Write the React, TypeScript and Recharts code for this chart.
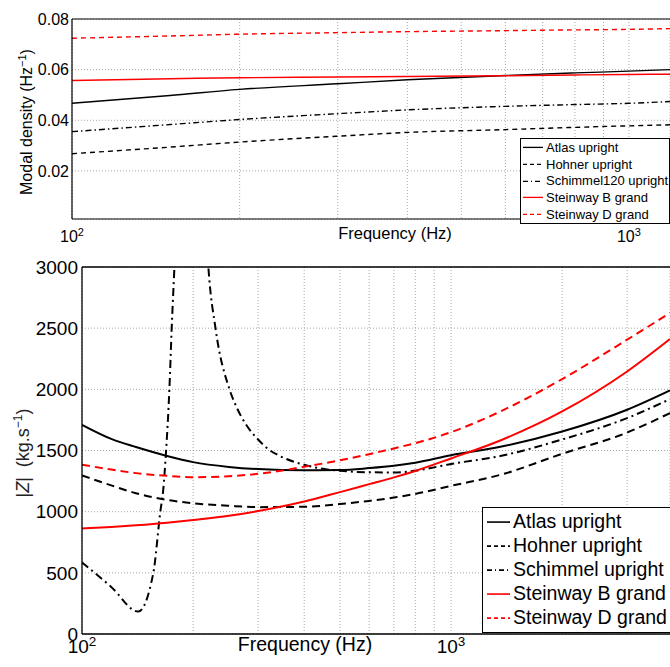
import React from "react";
import { LineChart, Line, XAxis, YAxis, CartesianGrid, ReferenceLine, Legend } from "recharts";

const FONT = '"Liberation Sans", Arial, Helvetica, sans-serif';

// ---- top panel: modal density ----
const TOP_FREQ = [100, 150, 200, 300, 400, 600, 800, 1000, 1185];
const TOP_ATLAS = [0.0467, 0.0498, 0.0522, 0.0544, 0.056, 0.0577, 0.0587, 0.0594, 0.06];
const TOP_HOHNER = [0.0268, 0.0294, 0.0314, 0.0337, 0.0352, 0.0363, 0.0372, 0.0378, 0.0382];
const TOP_SCHIMMEL = [0.0355, 0.0383, 0.0403, 0.0426, 0.0441, 0.0455, 0.0462, 0.0467, 0.0474];
const TOP_STEINWAY_B = [0.0557, 0.0564, 0.0568, 0.0571, 0.0573, 0.0576, 0.0579, 0.0581, 0.0582];
const TOP_STEINWAY_D = [0.0724, 0.0733, 0.074, 0.0746, 0.075, 0.0754, 0.0757, 0.0759, 0.0762];

const TOP_X_TICKS = [100, 200, 300, 400, 500, 600, 700, 800, 900, 1000];
const TOP_Y_TICKS = [0.02, 0.04, 0.06, 0.08];

// ---- bottom panel: |Z| ----
const BOT_FREQ = [100, 120, 140, 170, 200, 250, 300, 400, 500, 600, 700, 800, 1000, 1360, 2000, 3000, 3920];
const BOT_ATLAS = [1710, 1595, 1528, 1455, 1405, 1366, 1348, 1338, 1340, 1356, 1375, 1400, 1462, 1530, 1655, 1833, 1991];
const BOT_HOHNER = [1296, 1215, 1151, 1096, 1069, 1048, 1037, 1040, 1062, 1088, 1115, 1145, 1211, 1301, 1473, 1647, 1806];
const BOT_STEINWAY_B = [862, 875, 889, 910, 932, 966, 1005, 1083, 1160, 1225, 1280, 1333, 1435, 1582, 1819, 2146, 2411];
const BOT_STEINWAY_D = [1383, 1345, 1315, 1293, 1282, 1290, 1309, 1367, 1420, 1470, 1517, 1560, 1650, 1819, 2084, 2406, 2625];

const SCHIMMEL_FREQ = [100, 120, 142, 156, 163, 166, 169, 172.5, 175, 178, 185, 200, 213, 220, 230, 251, 260, 280, 300, 320, 340, 400, 450, 500, 600, 700, 800, 1000, 1360, 2000, 3000, 3920];
const SCHIMMEL_Z = [584, 385, 183, 497, 998, 1178, 1500, 2000, 2500, 3000, 4200, 5000, 3800, 3000, 2500, 2000, 1880, 1700, 1590, 1510, 1462, 1383, 1350, 1334, 1322, 1320, 1335, 1390, 1455, 1590, 1765, 1920];

const BOT_X_TICKS = [100, 200, 300, 400, 500, 600, 700, 800, 900, 1000, 2000, 3000];
const BOT_Y_TICKS = [0, 500, 1000, 1500, 2000, 2500, 3000];

const TOP_NAMES = ["Atlas upright", "Hohner upright", "Schimmel120 upright", "Steinway B grand", "Steinway D grand"];
const BOT_NAMES = ["Atlas upright", "Hohner upright", "Schimmel upright", "Steinway B grand", "Steinway D grand"];

const toPoints = (xs: number[], ys: number[]) => xs.map((f, i) => ({ f, v: ys[i] }));

const topSeries = [
  { color: "#000", dash: undefined, data: toPoints(TOP_FREQ, TOP_ATLAS) },
  { color: "#000", dash: "5 4", data: toPoints(TOP_FREQ, TOP_HOHNER) },
  { color: "#000", dash: "6 3 1.5 3", data: toPoints(TOP_FREQ, TOP_SCHIMMEL) },
  { color: "#ff0000", dash: undefined, data: toPoints(TOP_FREQ, TOP_STEINWAY_B) },
  { color: "#ff0000", dash: "5 4", data: toPoints(TOP_FREQ, TOP_STEINWAY_D) },
];

const botSeries = [
  { color: "#000", dash: undefined, data: toPoints(BOT_FREQ, BOT_ATLAS) },
  { color: "#000", dash: "8 5", data: toPoints(BOT_FREQ, BOT_HOHNER) },
  { color: "#000", dash: "8 4 2 4", data: toPoints(SCHIMMEL_FREQ, SCHIMMEL_Z) },
  { color: "#ff0000", dash: undefined, data: toPoints(BOT_FREQ, BOT_STEINWAY_B) },
  { color: "#ff0000", dash: "8 5", data: toPoints(BOT_FREQ, BOT_STEINWAY_D) },
];

const LEGEND_DASH = [undefined, "4 3", "5 3 1 3", undefined, "4 3"];

function makeDecadeTick(fontSize: number, supSize: number, baseOff: number, supRise: number) {
  return (props: any) => {
    const { x, y, payload } = props;
    const v = payload.value;
    const exp = Math.round(Math.log10(v));
    if (Math.abs(v - Math.pow(10, exp)) > 1e-6) return <g />;
    return (
      <text x={x} y={y + baseOff} textAnchor="middle" fontSize={fontSize} fontFamily={FONT} fill="#000">
        <tspan>10</tspan>
        <tspan dy={-supRise} fontSize={supSize}>{exp}</tspan>
      </text>
    );
  };
}

function XLabel({ cx, y, size }: any) {
  return (
    <text x={cx} y={y} textAnchor="middle" fontSize={size} fontFamily={FONT} fill="#000">
      Frequency (Hz)
    </text>
  );
}

function TopYLabel() {
  return (
    <text transform="translate(31.5,122) rotate(-90)" textAnchor="middle" fontSize={16} fontFamily={FONT} fill="#000">
      <tspan>Modal density (Hz</tspan>
      <tspan dy={-6} fontSize={11}>−1</tspan>
      <tspan dy={6}>)</tspan>
    </text>
  );
}

function BotYLabel() {
  return (
    <text transform="translate(29,195) rotate(-90)" textAnchor="middle" fontSize={18} fontFamily={FONT} fill="#222">
      <tspan>|</tspan>
      <tspan fontStyle="italic">Z</tspan>
      <tspan>|</tspan>
      <tspan dx={10}>(kg.s</tspan>
      <tspan dy={-7} fontSize={12}>−1</tspan>
      <tspan dy={7}>)</tspan>
    </text>
  );
}

function LegendBox({ names, dashes, colors, fontSize, rowH, sampleW, gap, padL, padT, padB, lineW, width }: any) {
  return (
    <div
      style={{
        border: "1px solid #000",
        background: "#fff",
        boxSizing: "border-box",
        width,
        paddingTop: padT,
        paddingBottom: padB,
        paddingLeft: padL,
        fontFamily: FONT,
        fontSize,
        color: "#000",
      }}
    >
      {names.map((n: string, i: number) => (
        <div key={n} style={{ display: "flex", alignItems: "center", height: rowH, whiteSpace: "nowrap" }}>
          <svg width={sampleW} height={rowH} style={{ flex: "none" }}>
            <line x1={0} x2={sampleW} y1={rowH / 2} y2={rowH / 2} stroke={colors[i]} strokeWidth={lineW} strokeDasharray={dashes[i]} />
          </svg>
          <span style={{ marginLeft: gap, lineHeight: 1 }}>{n}</span>
        </div>
      ))}
    </div>
  );
}

const gridStroke = "#a8a8a8";

export default function App() {
  const topTick = makeDecadeTick(16, 11, 23, 6);
  const botTick = makeDecadeTick(19, 13.5, 19, 7);
  return (
    <div style={{ position: "absolute", left: 0, top: 0, width: 670, height: 667, overflow: "hidden", background: "#fff" }}>
      <div style={{ position: "absolute", left: 0, top: 0 }}>
        <LineChart width={670} height={258} margin={{ top: 19, right: 0, left: 0, bottom: 0 }}>
          <CartesianGrid stroke={gridStroke} strokeDasharray="1 2" />
          <XAxis
            dataKey="f"
            type="number"
            scale="log"
            domain={[100, 1185]}
            allowDataOverflow
            ticks={TOP_X_TICKS}
            interval={0}
            tick={topTick}
            tickLine={false}
            tickSize={0}
            tickMargin={0}
            height={39}
            axisLine={{ stroke: "#000", strokeWidth: 1.2 }}
            label={<XLabel cx={395} y={248} size={16.5} />}
          />
          <YAxis
            type="number"
            domain={[0.001, 0.08]}
            allowDataOverflow
            ticks={TOP_Y_TICKS}
            interval={0}
            tickFormatter={(v: number) => v.toFixed(2)}
            tick={{ fill: "#000", fontSize: 16, fontFamily: FONT }}
            tickLine={false}
            tickSize={0}
            tickMargin={3}
            width={72}
            axisLine={{ stroke: "#000", strokeWidth: 1.2 }}
            label={<TopYLabel />}
          />
          <ReferenceLine y={0.08} stroke="#000" strokeWidth={1.2} />
          {topSeries.map((s, i) => (
            <Line
              key={i}
              data={s.data}
              dataKey="v"
              type="monotone"
              stroke={s.color}
              strokeWidth={1.4}
              strokeDasharray={s.dash}
              dot={false}
              activeDot={false}
              isAnimationActive={false}
            />
          ))}
          <Legend
            layout="vertical"
            verticalAlign="middle"
            align="center"
            wrapperStyle={{ left: 520, top: 138, right: "auto", bottom: "auto", width: "auto", height: "auto" }}
            content={() => (
              <LegendBox
                names={TOP_NAMES}
                dashes={LEGEND_DASH}
                colors={topSeries.map((s) => s.color)}
                fontSize={13}
                rowH={16.8}
                sampleW={20}
                gap={3}
                padL={2}
                padT={0}
                padB={0}
                lineW={1.3}
                width={150}
              />
            )}
          />
        </LineChart>
      </div>
      <div style={{ position: "absolute", left: 0, top: 258 }}>
        <LineChart width={670} height={409} margin={{ top: 9, right: 0, left: 0, bottom: 0 }}>
          <CartesianGrid stroke={gridStroke} strokeDasharray="1 2" />
          <XAxis
            dataKey="f"
            type="number"
            scale="log"
            domain={[100, 3920]}
            allowDataOverflow
            ticks={BOT_X_TICKS}
            interval={0}
            tick={botTick}
            tickLine={false}
            tickSize={0}
            tickMargin={0}
            height={33}
            axisLine={{ stroke: "#000", strokeWidth: 1.3 }}
            label={<XLabel cx={305} y={397} size={19.5} />}
          />
          <YAxis
            type="number"
            domain={[0, 3000]}
            allowDataOverflow
            ticks={BOT_Y_TICKS}
            interval={0}
            tick={{ fill: "#000", fontSize: 19, fontFamily: FONT }}
            tickLine={false}
            tickSize={0}
            tickMargin={4}
            width={82}
            axisLine={{ stroke: "#000", strokeWidth: 1.3 }}
            label={<BotYLabel />}
          />
          <ReferenceLine y={3000} stroke="#000" strokeWidth={1.3} />
          {botSeries.map((s, i) => (
            <Line
              key={i}
              data={s.data}
              dataKey="v"
              type="monotone"
              stroke={s.color}
              strokeWidth={2}
              strokeDasharray={s.dash}
              dot={false}
              activeDot={false}
              isAnimationActive={false}
            />
          ))}
          <Legend
            layout="vertical"
            verticalAlign="middle"
            align="center"
            wrapperStyle={{ left: 482, top: 249, right: "auto", bottom: "auto", width: "auto", height: "auto" }}
            content={() => (
              <LegendBox
                names={BOT_NAMES}
                dashes={LEGEND_DASH}
                colors={botSeries.map((s) => s.color)}
                fontSize={19.5}
                rowH={24.15}
                sampleW={23}
                gap={3}
                padL={4}
                padT={1.6}
                padB={1.6}
                lineW={1.6}
                width={192}
              />
            )}
          />
        </LineChart>
      </div>
    </div>
  );
}
